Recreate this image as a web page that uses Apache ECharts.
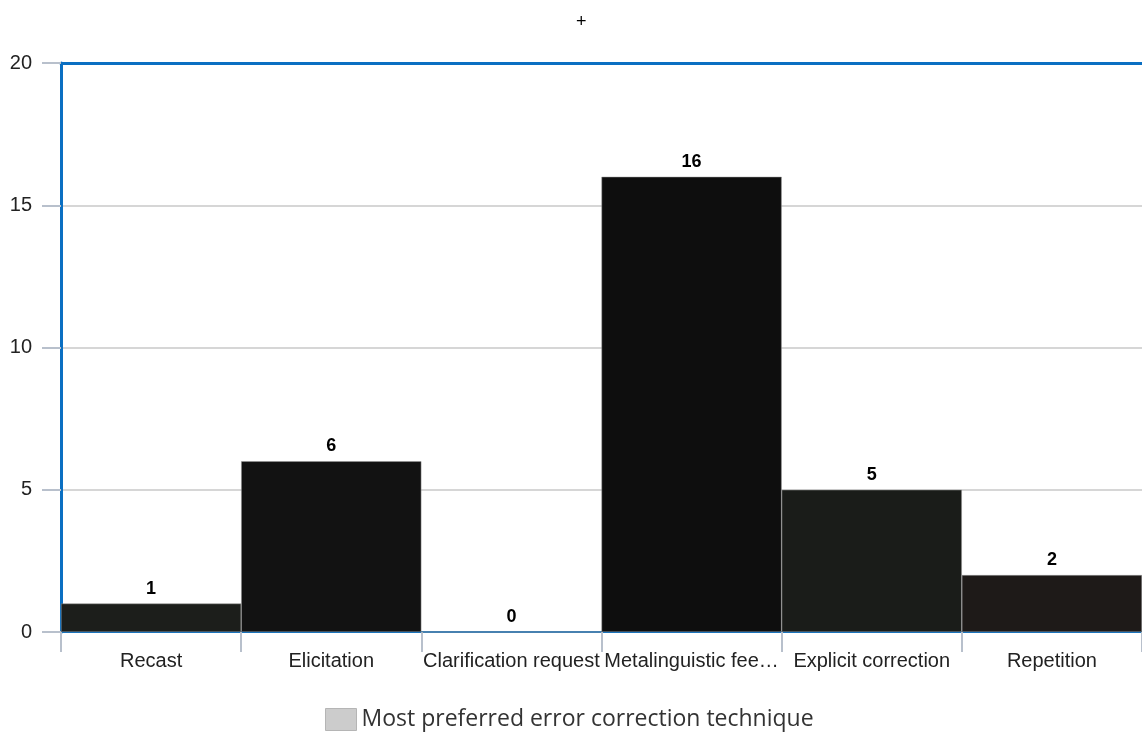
<!DOCTYPE html>
<html><head><meta charset="utf-8">
<script src="https://cdn.jsdelivr.net/npm/echarts@6/dist/echarts.min.js"></script>
<style>html,body{margin:0;padding:0;background:#fff}#c{width:1142px;height:733px}</style>
</head><body><div id="c"></div>
<script>
const categories = ['Recast','Elicitation','Clarification request','Metalinguistic feedback','Explicit correction','Repetition'];
const values = [1, 6, 0, 16, 5, 2];
const barColors = ['#1c1e1b','#121212','#121212','#0e0e0e','#1a1c19','#1e1a18'];
const yTicks = [0, 5, 10, 15, 20];
const seriesName = 'Most preferred error correction technique';

const chart = echarts.init(document.getElementById('c'));
chart.setOption({
  animation: false,
  title: { text: '+', left: 571, top: 8, textStyle: { fontSize: 18, fontWeight: 'normal', color: '#000', fontFamily: 'Liberation Sans' } },
  grid: { left: 61, right: 0, top: 63, bottom: 101 },
  legend: {
    bottom: -3, left: 320, itemWidth: 31, itemHeight: 22, itemGap: 10,
    icon: 'rect',
    textStyle: { fontSize: 23, color: '#333', fontFamily: 'Open Sans' },
    data: [{ name: seriesName, itemStyle: { color: '#cccccc', borderColor: '#b5b5b5', borderWidth: 1 } }]
  },
  xAxis: [{
    type: 'category', data: categories,
    axisLine: { show: true, lineStyle: { color: '#0a6fc2', width: 2 } },
    axisTick: { show: true, length: 20, lineStyle: { color: '#b8c0cc', width: 2 } },
    axisLabel: { color: '#222', fontSize: 20, fontFamily: 'Liberation Sans', margin: 19, width: 180, overflow: 'truncate', ellipsis: '…', interval: 0 }
  }, {
    type: 'category', data: categories, position: 'top',
    axisLine: { show: true, lineStyle: { color: '#0a6fc2', width: 3 } },
    axisTick: { show: false }, axisLabel: { show: false }
  }],
  yAxis: {
    type: 'value', min: yTicks[0], max: yTicks[yTicks.length - 1], interval: 5,
    axisLine: { show: true, lineStyle: { color: '#0a6fc2', width: 3 } },
    axisTick: { show: true, length: 19, lineStyle: { color: '#b8c0cc', width: 2 } },
    splitLine: { lineStyle: { color: '#c8c8c8', width: 1.5 } },
    axisLabel: { color: '#222', fontSize: 20, fontFamily: 'Liberation Sans', margin: 29 }
  },
  series: [{
    name: seriesName, type: 'bar', barCategoryGap: '0%',
    itemStyle: { color: '#cccccc' },
    label: { show: true, position: 'top', distance: 6, fontSize: 18, fontWeight: 'bold', color: '#000', fontFamily: 'Liberation Sans' },
    data: values.map((v, i) => ({ value: v, itemStyle: { color: barColors[i], borderColor: '#999', borderWidth: 0.5 } }))
  }]
});
</script></body></html>
